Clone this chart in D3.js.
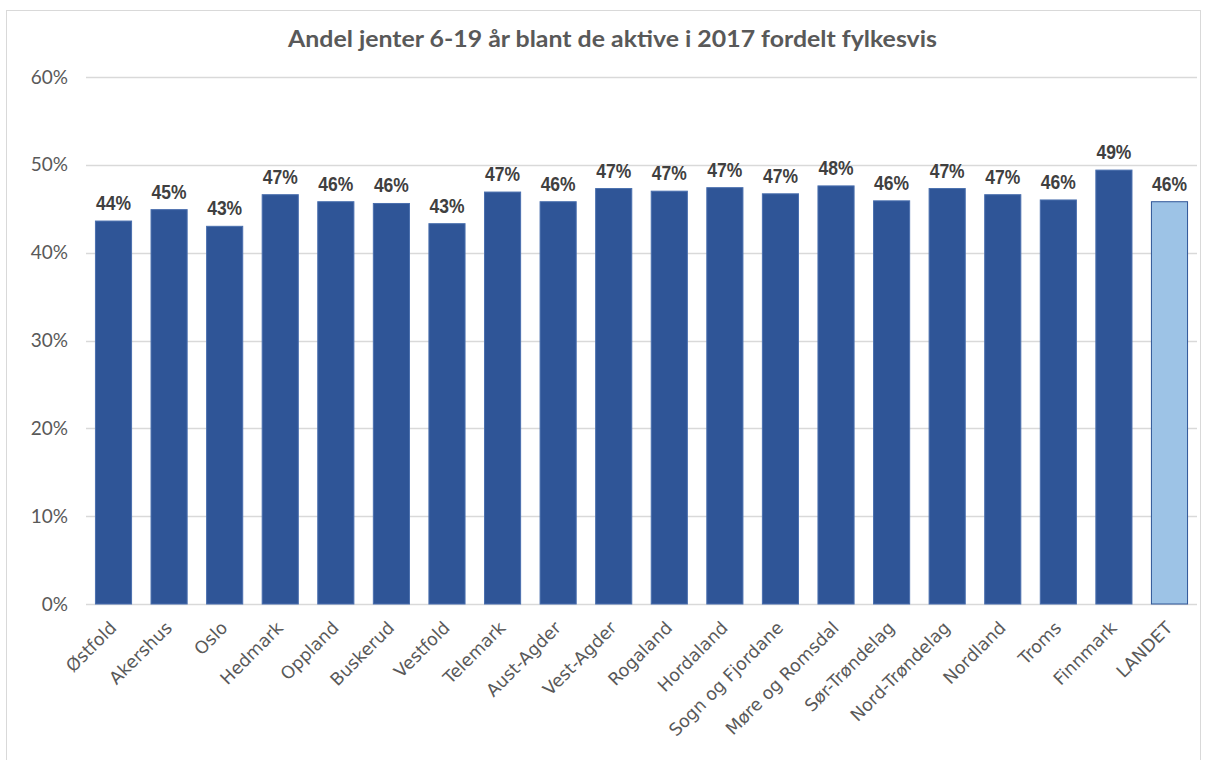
<!DOCTYPE html>
<html>
<head>
<meta charset="utf-8">
<script src="https://cdn.jsdelivr.net/npm/d3@7"></script>
<style>
  body { margin: 0; background: #fff; }
</style>
</head>
<body>
<script>
// data
const fylker = ["Østfold", "Akershus", "Oslo", "Hedmark", "Oppland", "Buskerud", "Vestfold",
  "Telemark", "Aust-Agder", "Vest-Agder", "Rogaland", "Hordaland", "Sogn og Fjordane",
  "Møre og Romsdal", "Sør-Trøndelag", "Nord-Trøndelag", "Nordland", "Troms", "Finnmark", "LANDET"];
const andelJenter = [0.436, 0.449, 0.430, 0.466, 0.458, 0.456, 0.433,
  0.469, 0.458, 0.473, 0.470, 0.474, 0.467,
  0.476, 0.459, 0.473, 0.466, 0.460, 0.494, 0.458];
const yTicks = [0, 0.1, 0.2, 0.3, 0.4, 0.5, 0.6];
const title = "Andel jenter 6-19 år blant de aktive i 2017 fordelt fylkesvis";

const W = 1206, H = 760;
const plot = {left: 86, right: 1197, top: 77, bottom: 604};

const svg = d3.select("body").append("svg")
    .attr("width", W)
    .attr("height", H);

// chart frame
svg.append("rect")
    .attr("x", 6.5).attr("y", 10.5)
    .attr("width", 1194).attr("height", 780)
    .attr("fill", "#fff")
    .attr("stroke", "#d9d9d9");

svg.append("text")
    .attr("x", 288).attr("y", 47)
    .attr("font-family", "Lato, sans-serif")
    .attr("font-weight", "bold")
    .attr("font-size", 23)
    .attr("fill", "#595959")
    .attr("textLength", 649)
    .attr("lengthAdjust", "spacingAndGlyphs")
    .text(title);

var x = d3.scaleBand().domain(fylker).range([plot.left, plot.right]).paddingInner(0.35).paddingOuter(0.17);
var y = d3.scaleLinear().domain([0, 0.6]).range([plot.bottom, plot.top]);

// gridlines
svg.append("g")
    .selectAll("line")
    .data(yTicks)
    .join("line")
    .attr("x1", plot.left).attr("x2", plot.right)
    .attr("y1", d => Math.round(y(d)) + 0.5)
    .attr("y2", d => Math.round(y(d)) + 0.5)
    .attr("stroke", "#d9d9d9")
    .attr("stroke-width", 1.5);

// y axis labels
var yAxis = d3.axisLeft(y).tickValues(yTicks).tickFormat(d3.format(".0%")).tickSize(0).tickPadding(18);
var yg = svg.append("g")
    .attr("transform", "translate(" + plot.left + ",0)")
    .call(yAxis);
yg.select(".domain").remove();
yg.selectAll("text")
    .attr("font-family", "Lato, sans-serif")
    .attr("font-size", 19)
    .attr("fill", "#595959");

// bars
var data = fylker.map((f, i) => ({name: f, value: andelJenter[i]}));
svg.append("g")
    .selectAll("rect")
    .data(data)
    .join("rect")
    .attr("x", d => x(d.name))
    .attr("y", d => y(d.value))
    .attr("width", x.bandwidth())
    .attr("height", d => y(0) - y(d.value))
    .attr("fill", d => d.name === "LANDET" ? "#9dc3e6" : "#2f5597")
    .attr("stroke", d => d.name === "LANDET" ? "#2f5597" : "#4a6fae")
    .attr("stroke-width", 1);

// value labels (narrow bold)
svg.append("g")
    .selectAll("text")
    .data(data)
    .join("text")
    .attr("x", d => x(d.name) + x.bandwidth() / 2 - 17.5)
    .attr("y", d => y(d.value) - 11)
    .attr("font-family", "Liberation Sans, Arial, sans-serif")
    .attr("font-weight", "bold")
    .attr("font-size", 20)
    .attr("fill", "#404040")
    .attr("textLength", 35)
    .attr("lengthAdjust", "spacingAndGlyphs")
    .text(d => d3.format(".0%")(d.value));

// x axis
var xAxis = d3.axisBottom(x).tickSize(0).tickPadding(0);
var xg = svg.append("g")
    .attr("transform", "translate(0," + plot.bottom + ")")
    .call(xAxis);
xg.select(".domain").remove();
xg.selectAll("text")
    .attr("font-family", "DejaVu Sans, Verdana, sans-serif")
    .attr("font-size", 17.5)
    .attr("fill", "#595959")
    .attr("text-anchor", "end")
    .attr("dy", 0)
    .attr("transform", "translate(4,25) rotate(-45)");
</script>
</body>
</html>
